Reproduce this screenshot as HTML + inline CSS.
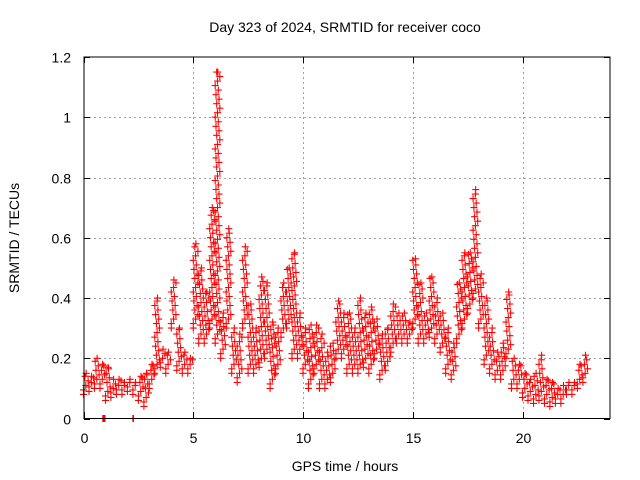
<!DOCTYPE html>
<html><head><meta charset="utf-8"><style>
body{margin:0;background:#fff;}
svg{display:block;font-family:"Liberation Sans",sans-serif;}
</style></head><body>
<svg id="chart" width="640" height="480" viewBox="0 0 640 480">
<rect width="640" height="480" fill="#fff"/>
<text x="345" y="32" font-size="14" text-anchor="middle">Day 323 of 2024, SRMTID for receiver coco</text>
<text transform="translate(19,238) rotate(-90)" font-size="14" text-anchor="middle">SRMTID / TECUs</text>
<text x="345" y="471" font-size="14" text-anchor="middle">GPS time / hours</text>
<g id="grid"></g>
<g id="marks"></g>
<rect x="84" y="57" width="526" height="361.5" fill="none" stroke="#000" stroke-width="1"/>
<g id="ticks"></g>
</svg>
<script>
const times = [0,0.25,0.5,0.75,1,1.25,1.5,1.75,2,2.25,2.5,2.75,3,3.25,3.5,3.75,4,4.25,4.5,4.75,5,5.25,5.5,5.75,6,6.25,6.5,6.75,7,7.25,7.5,7.75,8,8.25,8.5,8.75,9,9.25,9.5,9.75,10,10.25,10.5,10.75,11,11.25,11.5,11.75,12,12.25,12.5,12.75,13,13.25,13.5,13.75,14,14.25,14.5,14.75,15,15.25,15.5,15.75,16,16.25,16.5,16.75,17,17.25,17.5,17.75,18,18.25,18.5,18.75,19,19.25,19.5,19.75,20,20.25,20.5,20.75,21,21.25,21.5,21.75,22,22.25,22.5,22.75];
const lowVals = [0.08,0.09,0.1,0.1,0.06,0.07,0.08,0.08,0.09,0.08,0.06,0.04,0.1,0.15,0.17,0.15,0.3,0.16,0.15,0.15,0.3,0.25,0.25,0.3,0.25,0.2,0.3,0.15,0.12,0.3,0.15,0.15,0.17,0.2,0.1,0.15,0.27,0.3,0.2,0.2,0.15,0.1,0.15,0.1,0.1,0.12,0.2,0.2,0.15,0.15,0.15,0.17,0.15,0.2,0.13,0.16,0.22,0.25,0.25,0.25,0.3,0.25,0.25,0.27,0.25,0.22,0.15,0.13,0.25,0.3,0.35,0.4,0.3,0.18,0.15,0.13,0.13,0.2,0.1,0.1,0.07,0.06,0.05,0.06,0.05,0.04,0.05,0.05,0.08,0.08,0.1,0.12];
const highVals = [0.15,0.14,0.2,0.18,0.17,0.13,0.13,0.12,0.13,0.12,0.14,0.15,0.18,0.4,0.23,0.22,0.46,0.3,0.22,0.2,0.58,0.5,0.42,0.7,1.15,0.35,0.63,0.3,0.28,0.57,0.38,0.3,0.47,0.45,0.32,0.3,0.45,0.5,0.55,0.35,0.3,0.31,0.31,0.28,0.22,0.25,0.39,0.35,0.35,0.3,0.4,0.35,0.37,0.33,0.28,0.3,0.38,0.35,0.35,0.32,0.53,0.45,0.35,0.47,0.4,0.35,0.3,0.25,0.45,0.55,0.55,0.76,0.48,0.4,0.3,0.22,0.25,0.42,0.2,0.18,0.15,0.13,0.15,0.21,0.13,0.12,0.1,0.11,0.12,0.12,0.18,0.21];
const zeroTimes = [0.88,0.95,2.25];
const xTicks = [0,5,10,15,20];
const yTicks = [0,0.2,0.4,0.6,0.8,1,1.2];
const yTickLabels = ["0","0.2","0.4","0.6","0.8","1","1.2"];

const NS="http://www.w3.org/2000/svg";
const X0=83.5, PXH=21.95, Y0=418.5, PXV=301.25;
function xs(t){return X0+t*PXH;}
function ys(v){return Y0-v*PXV;}
const grid=document.getElementById('grid'), ticks=document.getElementById('ticks'), marks=document.getElementById('marks');
function line(g,x1,y1,x2,y2,st,dash){const l=document.createElementNS(NS,'line');l.setAttribute('x1',x1);l.setAttribute('y1',y1);l.setAttribute('x2',x2);l.setAttribute('y2',y2);l.setAttribute('stroke',st);if(dash)l.setAttribute('stroke-dasharray',dash);g.appendChild(l);return l;}
xTicks.forEach(t=>{
  const x=Math.round(xs(t))+0.5;
  if(t>0){const g=line(grid,x,57,x,418,'#a0a0a0','2,3');
  
  }
  line(ticks,x,418,x,412,'#000');line(ticks,x,57,x,63,'#000');
  const tx=document.createElementNS(NS,'text');tx.setAttribute('x',x);tx.setAttribute('y',443);tx.setAttribute('font-size','14');tx.setAttribute('text-anchor','middle');tx.textContent=t;
  
  
  ticks.appendChild(tx);
});
yTicks.forEach((v,i)=>{
  const y=Math.round(ys(v))+0.5;
  if(v>0&&v<1.2){const g=line(grid,84,y,610,y,'#a0a0a0','2,3');
  
  }
  line(ticks,84,y,90,y,'#000');line(ticks,610,y,604,y,'#000');
  const tx=document.createElementNS(NS,'text');tx.setAttribute('x',71);tx.setAttribute('y',y+5);tx.setAttribute('font-size','14');tx.setAttribute('text-anchor','end');tx.textContent=yTickLabels[i];
  
  
  ticks.appendChild(tx);
});
let d='';
function plus(t,v){const x=xs(t),y=ys(v);d+='M'+(x-3.5).toFixed(1)+' '+y.toFixed(1)+'h7M'+x.toFixed(1)+' '+(y-3.5).toFixed(1)+'v7';}
times.forEach((t,i)=>{
  const lo=lowVals[i],hi=highVals[i];
  plus(t,lo);plus(t+0.12,hi);
  let k=0;
  for(let v=lo+0.015;v<hi;v+=0.015){plus(t+((k*3)%7)*0.035,v);k++;}
});
zeroTimes.forEach(t=>{plus(t,0);plus(t+0.03,0);});
const p=document.createElementNS(NS,'path');
p.setAttribute('d',d);p.setAttribute('stroke','#ff0000');p.setAttribute('stroke-width','1.1');p.setAttribute('fill','none');


marks.appendChild(p);
</script>
</body></html>
